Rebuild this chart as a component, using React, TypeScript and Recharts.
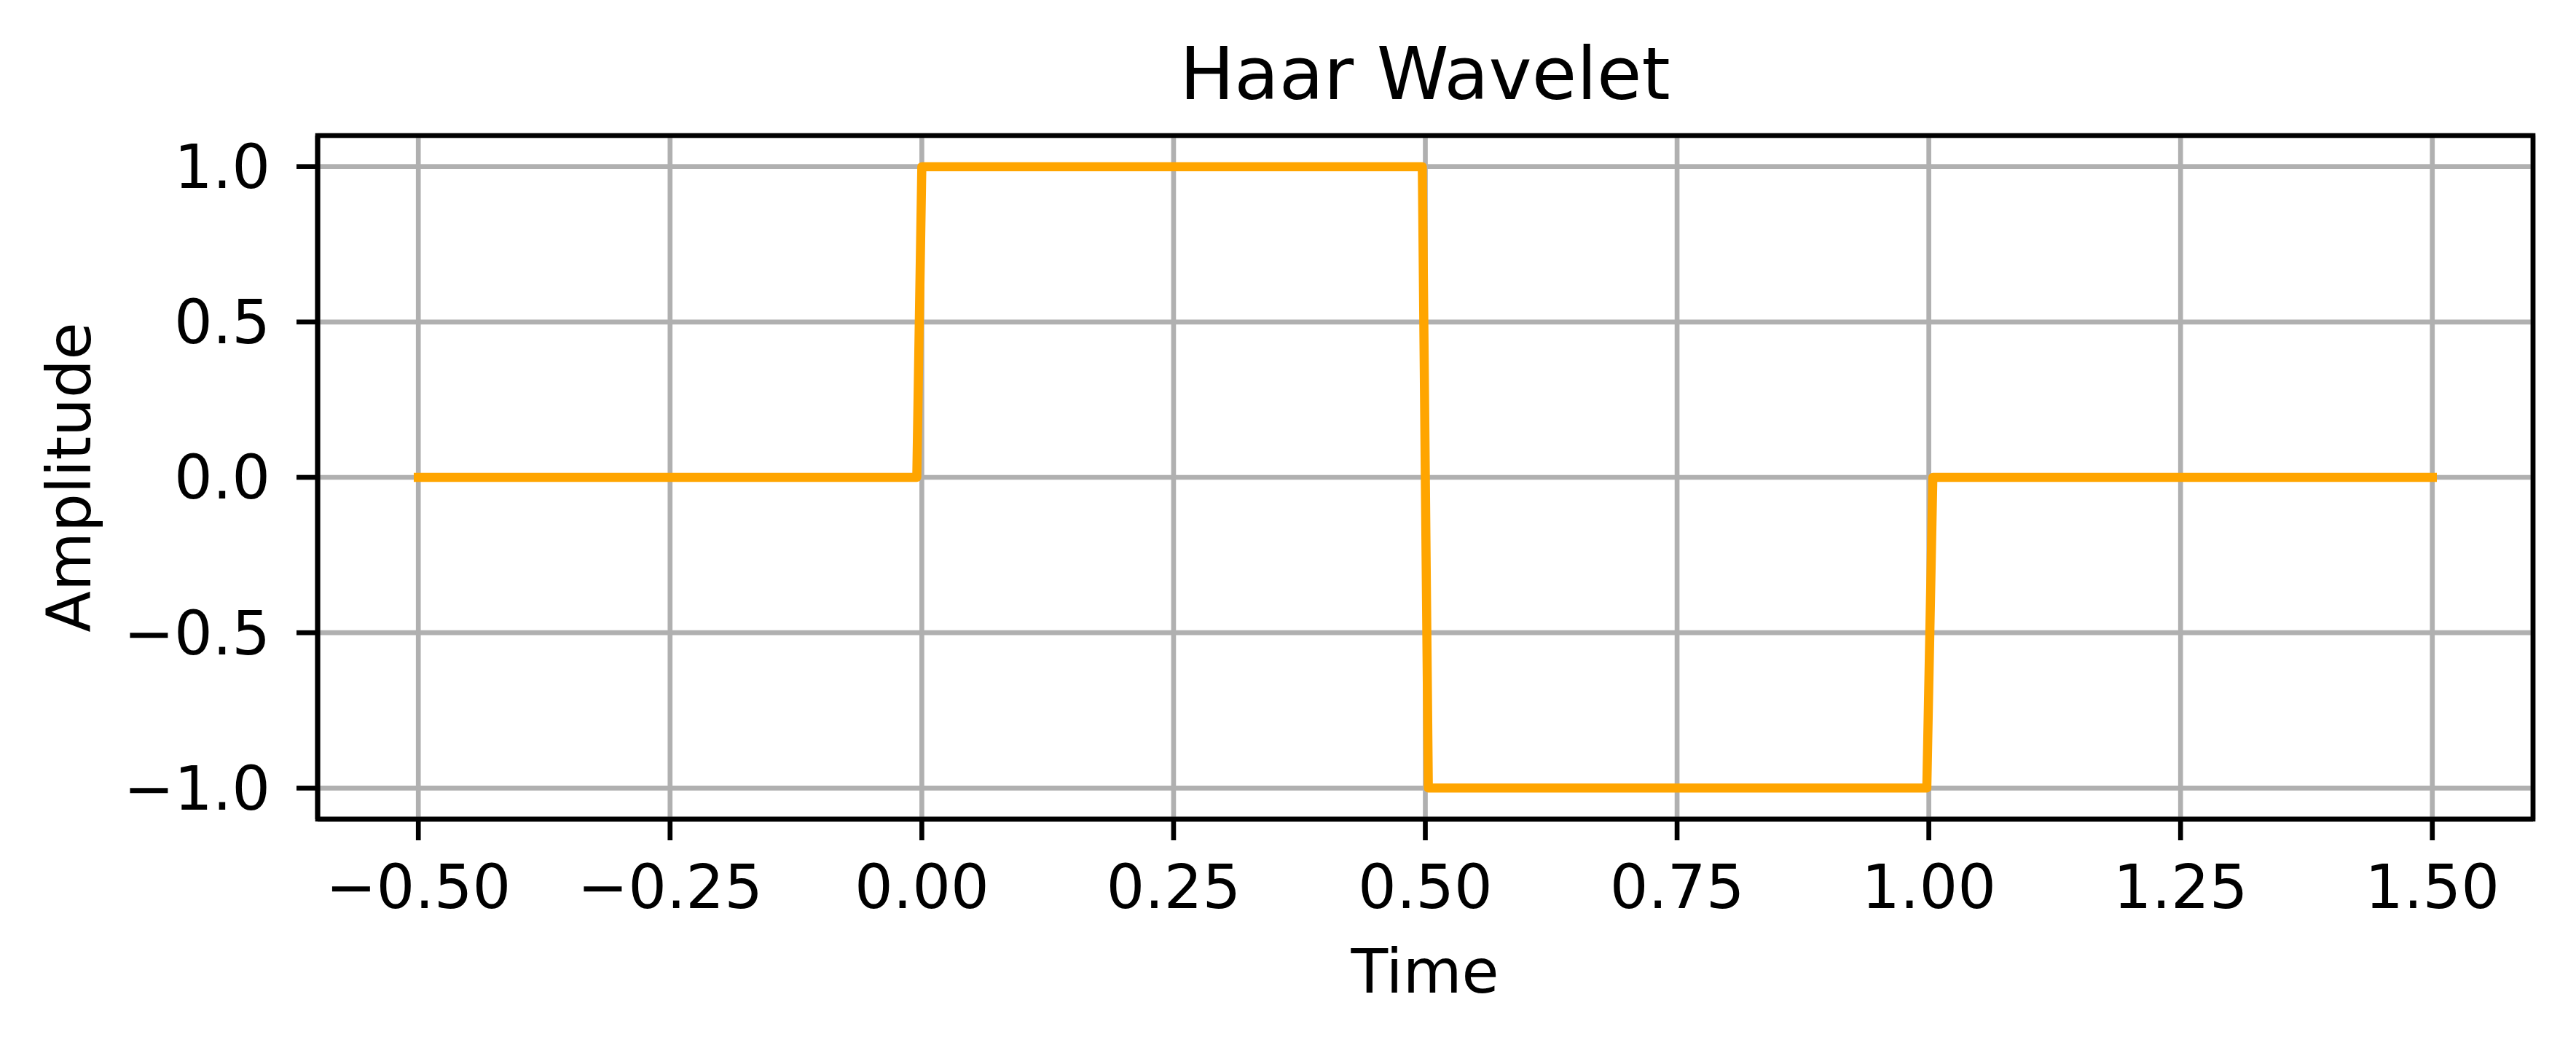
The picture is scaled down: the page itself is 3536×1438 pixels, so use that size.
import React from 'react'
import { LineChart, Line, XAxis, YAxis, CartesianGrid, ReferenceArea } from 'recharts'

const TIME = [-0.5, -0.005, 0.0, 0.497, 0.503, 0.998, 1.004, 1.5]
const AMPLITUDE = [0, 0, 1, 1, -1, -1, 0, 0]

const X_TICKS = [-0.5, -0.25, 0, 0.25, 0.5, 0.75, 1.0, 1.25, 1.5]
const Y_TICKS = [-1.0, -0.5, 0, 0.5, 1.0]
const X_DOMAIN = [-0.6, 1.6]
const Y_DOMAIN = [-1.1, 1.1]

const W = 3536
const H = 1438
const FONT = '"DejaVu Sans", sans-serif'
const LW = 6.67

const data = TIME.map((t, i) => ({ t, amp: AMPLITUDE[i] }))

const fmt = (v: number, digits: number) => {
  const s = Math.abs(v).toFixed(digits)
  return v < 0 ? '\u2212' + s : s
}

export default function App() {
  return (
    <div style={{ position: 'absolute', left: 0, top: 0, width: W, height: H, background: '#fff' }}>
      <style>{`body{margin:0}`}</style>
      <LineChart width={W} height={H} data={data} margin={{ top: 186, right: 59, left: 0, bottom: 0 }}>
        <CartesianGrid stroke="#b0b0b0" strokeWidth={LW} />
        <XAxis
          type="number"
          dataKey="t"
          domain={X_DOMAIN}
          ticks={X_TICKS}
          interval={0}
          allowDataOverflow
          height={314}
          tickSize={29}
          tickMargin={34}
          tickFormatter={(v: number) => fmt(v, 2)}
          axisLine={{ stroke: '#000', strokeWidth: LW }}
          tickLine={{ stroke: '#000', strokeWidth: LW }}
          tick={{ fill: '#000', fontSize: 83, fontFamily: FONT }}
        />
        <YAxis
          type="number"
          domain={Y_DOMAIN}
          ticks={Y_TICKS}
          interval={0}
          allowDataOverflow
          width={436}
          tickSize={29}
          tickMargin={36}
          tickFormatter={(v: number) => fmt(v, 1)}
          axisLine={{ stroke: '#000', strokeWidth: LW }}
          tickLine={{ stroke: '#000', strokeWidth: LW }}
          tick={{ fill: '#000', fontSize: 83, fontFamily: FONT }}
        />
        <Line
          type="linear"
          dataKey="amp"
          stroke="#ffa500"
          strokeWidth={12.5}
          strokeLinecap="square"
          strokeLinejoin="round"
          dot={false}
          activeDot={false}
          isAnimationActive={false}
        />
        <ReferenceArea
          x1={X_DOMAIN[0]}
          x2={X_DOMAIN[1]}
          y1={Y_DOMAIN[0]}
          y2={Y_DOMAIN[1]}
          fill="none"
          fillOpacity={0}
          stroke="#000"
          strokeWidth={LW}
          ifOverflow="visible"
        />
      </LineChart>
      <svg
        width={W}
        height={H}
        style={{ position: 'absolute', left: 0, top: 0, pointerEvents: 'none' }}
        fontFamily={FONT}
      >
        <text x={1956} y={136} textAnchor="middle" fontSize={100} fill="#000">
          Haar Wavelet
        </text>
        <text x={1956} y={1362} textAnchor="middle" fontSize={83} fill="#000">
          Time
        </text>
        <text
          x={0}
          y={0}
          transform="translate(124,655) rotate(-90)"
          textAnchor="middle"
          fontSize={83}
          fill="#000"
        >
          Amplitude
        </text>
      </svg>
    </div>
  )
}
